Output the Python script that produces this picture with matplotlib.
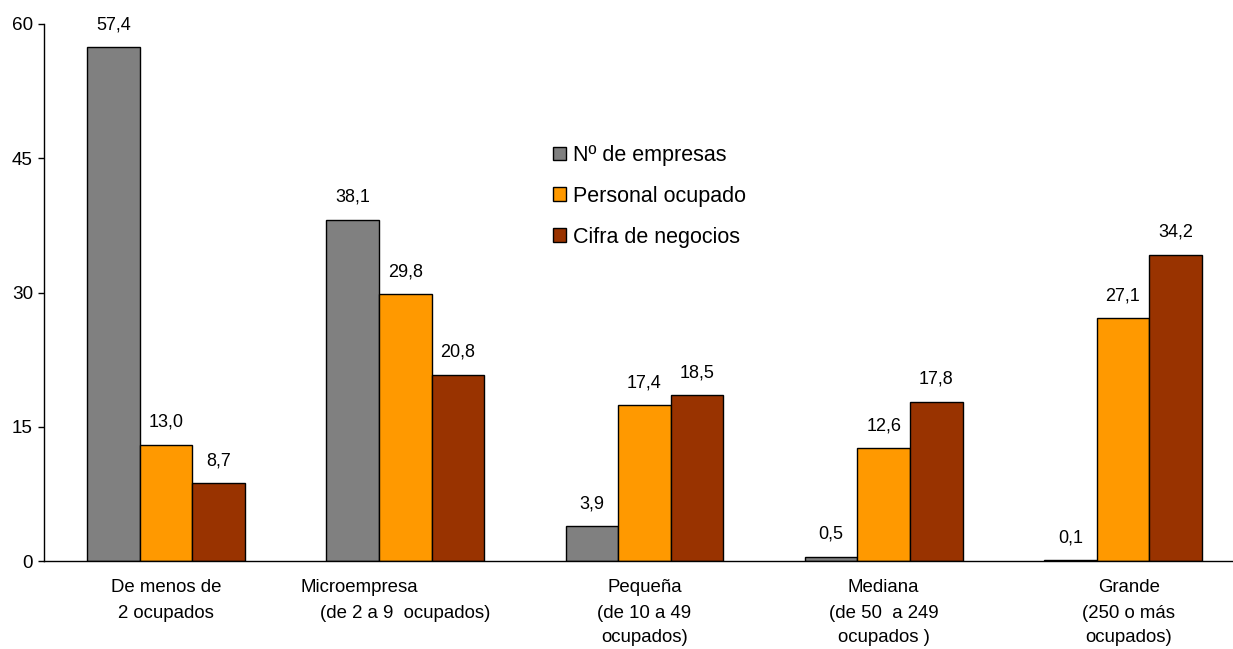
import matplotlib
matplotlib.use("Agg")
import matplotlib.pyplot as plt
import numpy as np

plt.rcParams['font.family'] = ['Liberation Sans', 'DejaVu Sans']

categories = [
    ["De menos de", "2 ocupados"],
    ["Microempresa", "(de 2 a 9  ocupados)"],
    ["Pequeña", "(de 10 a 49", "ocupados)"],
    ["Mediana", "(de 50  a 249", "ocupados )"],
    ["Grande", "(250 o más", "ocupados)"],
]
series_names = ["Nº de empresas", "Personal ocupado", "Cifra de negocios"]
n_empresas = [57.4, 38.1, 3.9, 0.5, 0.1]
personal = [13.0, 29.8, 17.4, 12.6, 27.1]
cifra = [8.7, 20.8, 18.5, 17.8, 34.2]
yticks = [0, 15, 30, 45, 60]

colors = ["#808080", "#FF9900", "#993300"]
FS = 13

fig = plt.figure(figsize=(12.33, 6.49), dpi=100)
ax = fig.add_axes([44/1233, 88/649, 1 - 44/1233, (561-24)/649])

x = np.arange(len(categories))
w = 0.22
for k, (vals, col, name) in enumerate(zip([n_empresas, personal, cifra], colors, series_names)):
    pos = x + (k - 1) * w
    ax.bar(pos, vals, width=w, color=col, edgecolor="black", linewidth=1.0, label=name)
    for xi, v in zip(pos, vals):
        ax.annotate(f"{v:.1f}".replace(".", ","), xy=(xi, v), xytext=(0, 13),
                    textcoords="offset points", ha="center", va="baseline", fontsize=FS)

ax.set_xlim(-0.51, 4.46)
ax.set_ylim(0, 60)
ax.set_yticks(yticks)
ax.set_yticklabels([str(t) for t in yticks], fontsize=13.6)
ax.tick_params(axis="y", length=4, width=1, pad=4, direction="out")
ax.set_xticks([])
for s in ["top", "right"]:
    ax.spines[s].set_visible(False)
ax.spines["left"].set_linewidth(1)
ax.spines["bottom"].set_linewidth(1)

# category labels, line by line (offsets in pixels)
line_dx = {(1, 0): -46}
for i, lines in enumerate(categories):
    for j, line in enumerate(lines):
        dx = line_dx.get((i, j), 0) + (6 if i == 4 else 0)
        ax.annotate(line, xy=(x[i], 0), xycoords=("data", "axes fraction"),
                    xytext=(dx, -27 - j * 25), textcoords="offset pixels",
                    ha="center", va="center", fontsize=13.4)

leg = ax.legend(loc="upper left", bbox_to_anchor=(553/1233, 1 - 145/649),
                bbox_transform=fig.transFigure, frameon=False, fontsize=15.5,
                handlelength=0.6, handleheight=0.6, handletextpad=0.33,
                labelspacing=0.92, borderpad=0, borderaxespad=0)

fig.savefig("out.png", dpi=100)
